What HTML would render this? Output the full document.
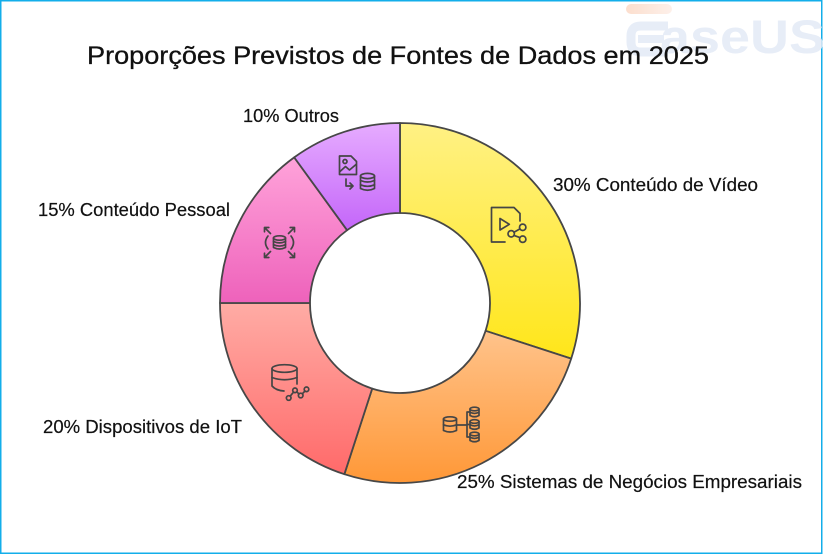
<!DOCTYPE html>
<html>
<head>
<meta charset="utf-8">
<style>
  html, body { margin: 0; padding: 0; background: #ffffff; }
  svg { display: block; }
  text { font-family: "Liberation Sans", Arial, sans-serif; fill: #111; }
</style>
</head>
<body>
<svg width="823" height="554" viewBox="0 0 823 554" xmlns="http://www.w3.org/2000/svg">
  <defs>
    <linearGradient id="gY" x1="0" y1="0" x2="0" y2="1">
      <stop offset="0" stop-color="#fff184"/>
      <stop offset="1" stop-color="#ffe61a"/>
    </linearGradient>
    <linearGradient id="gO" x1="0" y1="0" x2="0" y2="1">
      <stop offset="0" stop-color="#ffc38b"/>
      <stop offset="1" stop-color="#ff9837"/>
    </linearGradient>
    <linearGradient id="gR" x1="0" y1="0" x2="0" y2="1">
      <stop offset="0" stop-color="#ffaca5"/>
      <stop offset="1" stop-color="#ff6a6a"/>
    </linearGradient>
    <linearGradient id="gP" x1="0" y1="0" x2="0" y2="1">
      <stop offset="0" stop-color="#ffa3da"/>
      <stop offset="1" stop-color="#ee62bb"/>
    </linearGradient>
    <linearGradient id="gV" x1="0" y1="0" x2="0" y2="1">
      <stop offset="0" stop-color="#e6acff"/>
      <stop offset="1" stop-color="#c466f9"/>
    </linearGradient>
    <linearGradient id="gE" x1="0" y1="0" x2="1" y2="0">
      <stop offset="0" stop-color="#fcd9c6"/>
      <stop offset="1" stop-color="#fdeee6"/>
    </linearGradient>
  </defs>

  <!-- border -->
  <rect x="0.75" y="0.75" width="821" height="552.5" fill="none" stroke="#13aeea" stroke-width="1.5"/>

  <!-- watermark -->
  <g opacity="0.85">
    <rect x="626" y="4" width="46" height="10" rx="5" fill="url(#gE)"/>
    <path d="M668 26 H641 Q631 26 631 36 V42 Q631 52 641 52 H668" fill="none" stroke="#e3eaf6" stroke-width="9"/>
    <path d="M638 39 H664" stroke="#e3eaf6" stroke-width="8"/>
    <text x="660" y="53" font-size="47" font-weight="bold" textLength="165" lengthAdjust="spacingAndGlyphs" style="fill:#e3eaf6">aseUS</text>
  </g>

  <!-- title -->
  <text x="87" y="64" font-size="25" textLength="622" lengthAdjust="spacingAndGlyphs" stroke="#111" stroke-width="0.3">Proporções Previstos de Fontes de Dados em 2025</text>

  <!-- slices -->
  <g stroke="#474747" stroke-width="1.8" stroke-linejoin="round">
    <path d="M400,123 A180,180 0 0 1 571.19,358.62 L485.60,330.81 A90,90 0 0 0 400,213 Z" fill="url(#gY)"/>
    <path d="M571.19,358.62 A180,180 0 0 1 344.38,474.19 L372.19,388.60 A90,90 0 0 0 485.60,330.81 Z" fill="url(#gO)"/>
    <path d="M344.38,474.19 A180,180 0 0 1 220,303 L310,303 A90,90 0 0 0 372.19,388.60 Z" fill="url(#gR)"/>
    <path d="M220,303 A180,180 0 0 1 294.20,157.38 L347.10,230.19 A90,90 0 0 0 310,303 Z" fill="url(#gP)"/>
    <path d="M294.20,157.38 A180,180 0 0 1 400,123 L400,213 A90,90 0 0 0 347.10,230.19 Z" fill="url(#gV)"/>
  </g>

  <!-- icons -->
  <g fill="none" stroke="#454545" stroke-width="1.7" stroke-linecap="round" stroke-linejoin="round">
    <!-- yellow: video doc with share -->
    <path d="M505 242 H491.5 V207.5 H514 L520 213.5 V221"/>
    <path d="M500 218.5 L500 230 L509.3 224.3 Z"/>
    <circle cx="522.7" cy="227.3" r="3.2"/>
    <circle cx="511.2" cy="233.8" r="3.2"/>
    <circle cx="522.7" cy="239.2" r="3.2"/>
    <path d="M514 232.2 L519.9 228.9 M514 235.4 L519.9 237.6"/>

    <!-- purple: image -> database -->
    <path d="M350.5 174.5 H339.5 V156 H351 L356.5 161.5 V174.5 Z"/>
    <circle cx="345" cy="161.5" r="2"/>
    <path d="M340 171.5 L345.5 166.5 L349.5 170 L356 164.5"/>
    <path d="M346 179 V186 H353 M350 183 L353 186 L350 189"/>
    <ellipse cx="367.5" cy="176" rx="7" ry="2.6"/>
    <path d="M360.5 176 V188.5 Q367.5 192 374.5 188.5 V176"/>
    <path d="M360.5 180.5 Q367.5 183.5 374.5 180.5 M360.5 184.8 Q367.5 187.8 374.5 184.8"/>

    <!-- pink: expand database -->
    <path d="M270.5 233.5 L264.5 227.5 M264.5 231.8 V227.5 H268.8"/>
    <path d="M288.5 233.5 L294.5 227.5 M290.2 227.5 H294.5 V231.8"/>
    <path d="M270.5 251.5 L264.5 257.5 M264.5 253.2 V257.5 H268.8"/>
    <path d="M288.5 251.5 L294.5 257.5 M290.2 257.5 H294.5 V253.2"/>
    <path d="M268 236 Q263 242.5 268 249 M291 236 Q296 242.5 291 249"/>
    <ellipse cx="279.5" cy="238" rx="6" ry="2.2"/>
    <path d="M273.5 238 V247.5 Q279.5 250.5 285.5 247.5 V238"/>
    <path d="M273.5 241.5 Q279.5 244.2 285.5 241.5 M273.5 244.7 Q279.5 247.4 285.5 244.7"/>

    <!-- red: database with nodes -->
    <ellipse cx="284.5" cy="368.5" rx="12.5" ry="3.8"/>
    <path d="M272 368.5 V386 Q276 390.5 284 391"/>
    <path d="M297 368.5 V384"/>
    <path d="M272 377.5 Q284.5 382 297 377.5"/>
    <circle cx="288.7" cy="398" r="2.3"/>
    <circle cx="295" cy="390.3" r="2.3"/>
    <circle cx="300.7" cy="395.5" r="2.3"/>
    <circle cx="306.5" cy="389.3" r="2.3"/>
    <path d="M290.2 396.2 L293.5 392.1 M296.8 391.8 L299 394 M302.3 393.8 L305 391"/>

    <!-- orange: database tree -->
    <ellipse cx="450" cy="419" rx="6.5" ry="2.2"/>
    <path d="M443.5 419 V430.5 Q450 433.5 456.5 430.5 V419"/>
    <path d="M443.5 424.8 Q450 427.6 456.5 424.8"/>
    <path d="M457 425 H467 M470 412 H467 V437 H470 M467 424.5 H470"/>
    <ellipse cx="474.5" cy="409" rx="4.5" ry="1.8"/>
    <path d="M470 409 V415.5 Q474.5 418 479 415.5 V409 M470 412.3 Q474.5 414.6 479 412.3"/>
    <ellipse cx="474.5" cy="421.5" rx="4.5" ry="1.8"/>
    <path d="M470 421.5 V428 Q474.5 430.5 479 428 V421.5 M470 424.8 Q474.5 427.1 479 424.8"/>
    <ellipse cx="474.5" cy="434" rx="4.5" ry="1.8"/>
    <path d="M470 434 V440.5 Q474.5 443 479 440.5 V434 M470 437.3 Q474.5 439.6 479 437.3"/>
  </g>

  <!-- labels -->
  <g font-size="18" stroke="#111" stroke-width="0.2">
    <text x="243" y="122" textLength="96" lengthAdjust="spacingAndGlyphs">10% Outros</text>
    <text x="553" y="191" textLength="205" lengthAdjust="spacingAndGlyphs">30% Conteúdo de Vídeo</text>
    <text x="38" y="216" textLength="192" lengthAdjust="spacingAndGlyphs">15% Conteúdo Pessoal</text>
    <text x="43" y="433" textLength="199" lengthAdjust="spacingAndGlyphs">20% Dispositivos de IoT</text>
    <text x="457" y="488" textLength="345" lengthAdjust="spacingAndGlyphs">25% Sistemas de Negócios Empresariais</text>
  </g>
</svg>
</body>
</html>
